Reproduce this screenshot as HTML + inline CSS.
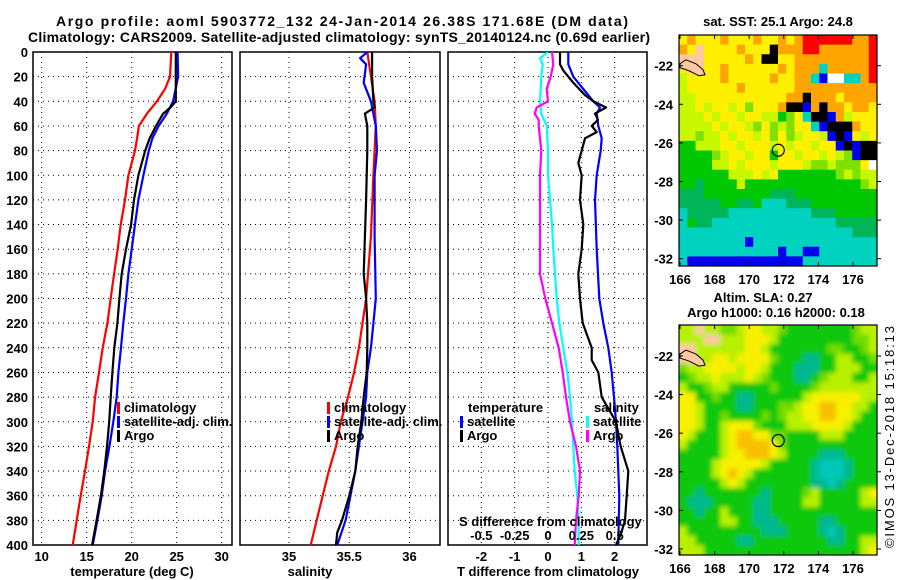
<!DOCTYPE html>
<html><head><meta charset="utf-8">
<style>
html,body{margin:0;padding:0;background:#fff;}
svg{display:block;font-family:"Liberation Sans",sans-serif;font-weight:bold;}
</style></head>
<body>
<svg id="fig" width="900" height="580" viewBox="0 0 900 580" xmlns="http://www.w3.org/2000/svg">
<defs>
<clipPath id="c1"><rect x="33" y="52" width="199" height="493"/></clipPath>
<clipPath id="c2"><rect x="240" y="52" width="200" height="493"/></clipPath>
<clipPath id="c3"><rect x="448" y="52" width="199" height="493"/></clipPath>
<clipPath id="cm1"><rect x="679" y="35" width="198" height="231"/></clipPath>
<clipPath id="cm2"><rect x="679" y="325" width="198" height="230"/></clipPath>
<filter id="blur" x="-5%" y="-5%" width="110%" height="110%"><feGaussianBlur stdDeviation="2.5"/></filter>
</defs>
<text x="342" y="26" text-anchor="middle" font-size="14" textLength="572">Argo profile: aoml 5903772_132 24-Jan-2014 26.38S 171.68E (DM data)</text>
<text x="339" y="42" text-anchor="middle" font-size="14" textLength="622">Climatology: CARS2009. Satellite-adjusted climatology: synTS_20140124.nc (0.69d earlier)</text>
<text x="778" y="26" text-anchor="middle" font-size="13">sat. SST: 25.1 Argo: 24.8</text>
<text x="763" y="302" text-anchor="middle" font-size="13">Altim. SLA: 0.27</text>
<text x="776" y="317" text-anchor="middle" font-size="13">Argo h1000: 0.16 h2000: 0.18</text>
<text transform="translate(894,548) rotate(-90)" font-size="13" font-weight="normal" textLength="222">©IMOS 13-Dec-2018 15:18:13</text>
<g id="plots"></g>
<g id="maps"></g>
</svg>
<script>
// ---- profile data ----
const depthTicks = [0,20,40,60,80,100,120,140,160,180,200,220,240,260,280,300,320,340,360,380,400];
const tempTicks = [10,15,20,25,30];
const salTicks = [35,35.5,36];
const salTickLabels = ["35","35.5","36"];
const tdiffTicks = [-2,-1,0,1,2];
const sdiffTicks = [-0.5,-0.25,0,0.25,0.5];
const sdiffTickLabels = ["-0.5","-0.25","0","0.25","0.5"];

const tClimDepth = [0,20,30,40,50,60,70,80,100,120,140,160,180,200,220,240,260,280,300,320,340,360,380,400];
const tClim = [24.4,24.26,23.7,22.8,21.7,20.8,20.6,20.37,19.63,19.26,18.78,18.44,18.04,17.67,17.3,16.78,16.37,15.93,15.67,15.26,14.81,14.33,13.89,13.44];
const tSatDepth = [0,20,40,50,60,70,80,100,120,140,160,180,200,220,240,260,280,300,320,340,360,380,400];
const tSat = [25.1,25.15,24.6,23.9,23.0,22.3,21.9,21.3,20.74,20.37,20.0,19.63,19.37,19.07,18.81,18.52,18.33,17.96,17.52,17.04,16.67,16.19,15.67];
const tArgoDepth = [0,40,45,50,60,70,80,100,120,140,160,180,200,220,240,260,280,300,320,340,360,380,400];
const tArgo = [24.9,24.9,24.3,23.5,22.7,22.0,21.5,20.74,20.26,19.93,19.37,18.89,18.63,18.41,18.07,17.85,17.67,17.5,17.25,16.95,16.58,16.1,15.6];

const sClimDepth = [0,40,60,100,150,200,220,240,260,280,300,320,340,360,380,400];
const sClim = [35.65,35.71,35.72,35.70,35.68,35.64,35.61,35.58,35.54,35.49,35.43,35.39,35.33,35.28,35.23,35.18];
const sSatDepth = [0,5,10,25,40,60,80,100,150,200,220,240,260,280,300,320,340,360,380,400];
const sSat = [35.65,35.59,35.64,35.62,35.68,35.72,35.73,35.71,35.71,35.72,35.70,35.68,35.65,35.64,35.61,35.58,35.55,35.51,35.47,35.40];
const sArgoDepth = [0,20,40,45,50,55,60,80,100,120,150,180,200,220,240,260,280,300,320,340,360,380,390,400];
const sArgo = [35.69,35.69,35.70,35.71,35.63,35.64,35.65,35.65,35.645,35.64,35.63,35.62,35.64,35.65,35.65,35.645,35.62,35.60,35.57,35.55,35.50,35.44,35.40,35.39];

const dTSatDepth = [0,10,20,30,40,45,50,60,70,80,100,120,160,200,220,240,260,280,300,320,340,360,400];
const dTSat = [0.61,0.61,0.76,1.06,1.36,1.56,1.46,1.51,1.61,1.58,1.46,1.41,1.46,1.54,1.66,1.81,1.91,1.98,2.04,2.08,2.11,2.14,2.11];
const dTArgoDepth = [0,10,15,25,35,40,45,50,55,60,65,70,80,90,100,120,140,160,180,200,220,240,250,260,280,300,320,340,360,380,390,400];
const dTArgo = [0.36,0.36,0.46,0.76,1.11,1.36,1.74,1.41,1.5,1.31,1.46,1.11,1.01,0.91,1.01,0.96,1.06,1.01,0.91,0.96,1.04,1.31,1.31,1.51,1.61,2.04,2.18,2.41,2.36,2.31,2.2,2.04];
const dSSatDepth = [0,5,10,20,40,50,60,80,100,120,140,160,200,220,240,260,280,300,320,340,360,380,400];
const dSSat = [0,-0.06,-0.04,-0.05,-0.06,-0.05,-0.01,0,0,0.015,0.03,0.04,0.065,0.085,0.115,0.145,0.165,0.18,0.19,0.2,0.22,0.23,0.23];
const dSArgoDepth = [0,10,20,30,40,45,50,55,60,80,100,120,180,200,220,240,260,280,300,320,340,360,380,400];
const dSArgo = [0.03,0.04,0.02,-0.01,0,-0.085,-0.1,-0.07,-0.07,-0.05,-0.06,-0.06,-0.06,-0.02,0.03,0.08,0.11,0.135,0.165,0.21,0.24,0.23,0.21,0.2];

// ---- map data (colour-code rows) ----
const sstRows = [
"YOYYYOYYYOYYOYORRRRRROOR","OYPYYYYOYYYKOOORROOOOOOR","PPPYYYYYOYKKYYOOOOOOOOOR","YPPYYOYYYYYYOYOOOCOOOOOR",
"yYYYYOYYYYYOYYOOCBWWCCOR","yYYYYYYOYYYYYYOOOOOOOOOO","yyYYYYYYYYYYYOOKOOOYOOOO","yyYyYYyYLYYYOKKBOKOOYOOY",
"yyyYyYYyYYyyGLYCKKBOyYYY","yyyyYyYYyLYLyLYYCBKKKOYY","yyLyyYyYYyYLYLyYYyBKBYyY","GGyyyYYyYYYyYyYYyYYBKBKK",
"GGGGLyYYyYYGYYyYYyYyLBKK","GGGGyyYyYYYyYYYyLLyLLLYW","GGGGGGyyyYyYGGGGGGGLyLyy","GGDGGGGyGGGGGGGGGGGGGGLy",
"DDDGGGGGGGGDDDGGGGGGGGGG","DDDDDGGDDGCCCDDDGGGGGGGG","CDDDDDCCCCCCCCCCDDDGGGGG","CGDDCCCCCCCCCCCCCCCDDDDD",
"CCCCCCCCCCCCCCCCCCCCCDDD","CCCCCCCCBCCCCCCCCCCCCCCC","CCCCCCCCCCCCBCCBBCCCCCCC","CBBBBBBBBBBBBBBCCCCCCCCC"];
const slaRows = [
"yyPyyLLyYYyyLGGGGGGGGLyy","yyyPPyyyYYYyGGGGGGGGGLLy","PPyyyyyyYYyGGGGGGGLLGGLy","PPyyYYyYYYYLGGGTTGGyyGGL",
"LyyYYYYyYYyGGGTTTGGyyyGG","GLyyYyyyYyLGGGTTGLyyyGGy","yGGLyyGGGGGLGGGGLyyyyyyy","YYGGLGGTTGGGGGGyYYYYYYyy",
"YYyGGGGTTGGGLLyYYOOYYyyG","YYyGGLGGGGLGLyyYYOOYYyGG","YYyGGyYYYLGGGyyyYYYYyGGG","YyGGGyYOOYYLLGGGGyyyGGGG",
"yGGGGyYOOOOYLGGGGGGGGGGG","GGGGGyYYOOOYyGGGGTTTGGGG","GGGGyYYYYYyGGGGGTCCCTGGG","GGGGyYOYyGGGGGGGTCCCTGGG",
"GGGGGyYyGGGGGGGGTTCTGGGG","GGTGGGGGGGTGGGGLyGGGGGyY","GTTTGGGGGTTGGGGyyGGGGGyy","GGTGGyGGGTTGGGGGGGGGGGGG",
"GGGGGyyGGTTTGGGGGTTGGGGG","yGGGGGGGGGTTTGGGGTCTGGGG","yyGGGGGTTGGGGGGGGGTTGGyy","yyyGGGGGGGGGGGGGGGGGGGyY"];
const lonTicks = [166,168,170,172,174,176];
const latTicks = [-22,-24,-26,-28,-30,-32];
const argoLon = 171.68, argoLat = -26.38;

const NS = "http://www.w3.org/2000/svg";
function mk(tag, attrs, parent, txt){
  const e = document.createElementNS(NS, tag);
  for (const k in attrs) e.setAttribute(k, attrs[k]);
  if (txt !== undefined) e.textContent = txt;
  parent.appendChild(e); return e;
}
const plots = document.getElementById('plots');
const maps = document.getElementById('maps');
const yD = d => 52 + d * 1.2325;
const panels = [
  {x0:33, x1:232, clip:'c1', name:'temperature-panel', ticks:tempTicks, labels:tempTicks.map(String), xs: v => 41.7 + (v-10)*9, title:'temperature (deg C)', tx:132, ylabels:true},
  {x0:240, x1:440, clip:'c2', name:'salinity-panel', ticks:salTicks, labels:salTickLabels, xs: v => 289 + (v-35)*120.5, title:'salinity', tx:310},
  {x0:448, x1:647, clip:'c3', name:'difference-panel', ticks:tdiffTicks, labels:tdiffTicks.map(String), xs: v => 548 + v*33.33, title:'T difference from climatology', tx:548}
];
const xsS = v => 548 + v*133.3;

panels.forEach(p => {
  const g = mk('g', {}, plots);
  
  
  depthTicks.forEach(d => {
    const l = mk('line', {x1:p.x0, x2:p.x1, y1:yD(d), y2:yD(d), stroke:'#000', 'stroke-width':1, 'stroke-dasharray':'1,4'}, g);
    
    
    if (p.ylabels) {
      const t = mk('text', {x:28, y:yD(d)+5, 'text-anchor':'end', 'font-size':13}, g, String(d));
      
      
    }
  });
  p.ticks.forEach((v,i) => {
    const x = p.xs(v);
    const l = mk('line', {x1:x, x2:x, y1:52, y2:545, stroke:'#000', 'stroke-width':1, 'stroke-dasharray':'1,4'}, g);
    
    
    const t = mk('text', {x:x, y:561, 'text-anchor':'middle', 'font-size':13}, g, p.labels[i]);
    
    
  });
  const b = mk('rect', {x:p.x0, y:52, width:p.x1-p.x0, height:493, fill:'none', stroke:'#000', 'stroke-width':1.5}, g);
  
  
  const at = mk('text', {x:p.tx, y:576, 'text-anchor':'middle', 'font-size':13}, g, p.title);
  
  
});

function series(depths, vals, xs, color, clip, name){
  const pts = depths.map((d,i) => xs(vals[i]).toFixed(1) + ',' + yD(d).toFixed(1)).join(' ');
  const pl = mk('polyline', {points:pts, fill:'none', stroke:color, 'stroke-width':2.2, 'clip-path':'url(#'+clip+')', 'stroke-linejoin':'round'}, plots);
  
  
}
series(tClimDepth, tClim, panels[0].xs, '#f00', 'c1', 'temperature-climatology-line');
series(tSatDepth, tSat, panels[0].xs, '#00f', 'c1', 'temperature-satellite-line');
series(tArgoDepth, tArgo, panels[0].xs, '#000', 'c1', 'temperature-argo-line');
series(sClimDepth, sClim, panels[1].xs, '#f00', 'c2', 'salinity-climatology-line');
series(sSatDepth, sSat, panels[1].xs, '#00f', 'c2', 'salinity-satellite-line');
series(sArgoDepth, sArgo, panels[1].xs, '#000', 'c2', 'salinity-argo-line');
series(dTSatDepth, dTSat, panels[2].xs, '#00f', 'c3', 'tdiff-satellite-line');
series(dTArgoDepth, dTArgo, panels[2].xs, '#000', 'c3', 'tdiff-argo-line');
series(dSSatDepth, dSSat, xsS, '#0ff', 'c3', 'sdiff-satellite-line');
series(dSArgoDepth, dSArgo, xsS, '#f0f', 'c3', 'sdiff-argo-line');

const sdt = mk('text', {x:459, y:526, 'font-size':13}, plots, 'S difference from climatology');


sdiffTicks.forEach((v,i) => {
  const t = mk('text', {x:xsS(v), y:540, 'text-anchor':'middle', 'font-size':13}, plots, sdiffTickLabels[i]);
  
  
});

function legend(x, y, color, label){
  if (color) {
    const r = mk('rect', {x:x, y:y-10, width:3, height:12, fill:color}, plots);
    
    
  }
  const t = mk('text', {x:x+7, y:y, 'font-size':13}, plots, label);
  
  
}
legend(117, 412, '#f00', 'climatology');
legend(117, 426, '#00f', 'satellite-adj. clim.');
legend(117, 440, '#000', 'Argo');
legend(327, 412, '#f00', 'climatology');
legend(327, 426, '#00f', 'satellite-adj. clim.');
legend(327, 440, '#000', 'Argo');
legend(461, 412, null, 'temperature');
legend(460, 426, '#00f', 'satellite');
legend(460, 440, '#000', 'Argo');
legend(587, 412, null, 'salinity');
legend(586, 426, '#0ff', 'satellite');
legend(586, 440, '#f0f', 'Argo');

// ---- maps ----
const sstPal = {R:'#ff0000',O:'#ffa500',Y:'#fff000',y:'#c8f800',L:'#80e000',G:'#00c800',D:'#00b45a',C:'#00d2c0',B:'#0000f0',K:'#000000',W:'#ffffff',P:'#ffc8a0'};
const slaPal = {O:'#f8c000',Y:'#f8f000',y:'#b8f000',L:'#70dc00',G:'#10c810',T:'#00b890',C:'#00c8b8',P:'#ffc8a0'};
function drawMap(rows, pal, x0, y0, w, h, latTop, clip, name, blur){
  const g = mk('g', {'clip-path':'url(#'+clip+')'}, maps);
  
  
  const inner = mk('g', blur ? {filter:'url(#blur)'} : {}, g);
  const nr = rows.length, nc = rows[0].length;
  const cw = w/nc, ch = h/nr;
  mk('rect', {x:x0, y:y0, width:w, height:h, fill: pal[rows[nr-1][0]]}, inner);
  rows.forEach((row, r) => {
    for (let c=0;c<nc;c++){
      const code = row[c];
      const cell = mk('rect', {x:(x0+c*cw-(blur&&c==0?4:0)).toFixed(2), y:(y0+r*ch-(blur&&r==0?4:0)).toFixed(2), width:(cw+0.6+(blur&&(c==0||c==nc-1)?4:0)).toFixed(2), height:(ch+0.6+(blur&&(r==0||r==nr-1)?4:0)).toFixed(2), fill:pal[code]}, inner);
      
      
    }
  });
  const lonX = lon => 680 + (lon-166)*17.3;
  const latY = lat => latTop + (-22 - lat)*19.3;
  const isl = mk('path', {d:'M'+lonX(166)+','+latY(-21.9)+' l6,-4 l10,4 l7,6 l2,5 l-6,1 l-10,-5 l-9,-3z', fill:'#ffc8a0', stroke:'#000', 'stroke-width':1}, g);
  
  
  const fr = mk('rect', {x:x0, y:y0, width:w, height:h, fill:'none', stroke:'#000', 'stroke-width':1.2}, maps);
  
  
  lonTicks.forEach(lon => {
    const x = lonX(lon);
    mk('line', {x1:x, x2:x, y1:y0, y2:y0+4, stroke:'#000'}, maps);
    mk('line', {x1:x, x2:x, y1:y0+h, y2:y0+h-4, stroke:'#000'}, maps);
    const t = mk('text', {x:x, y:y0+h+18, 'text-anchor':'middle', 'font-size':13}, maps, String(lon));
    
    
  });
  latTicks.forEach(lat => {
    const y = latY(lat);
    mk('line', {x1:x0, x2:x0+4, y1:y, y2:y, stroke:'#000'}, maps);
    mk('line', {x1:x0+w, x2:x0+w+4, y1:y, y2:y, stroke:'#000'}, maps);
    const t = mk('text', {x:x0-6, y:y+5, 'text-anchor':'end', 'font-size':13}, maps, String(lat));
    
    
  });
  const m = mk('circle', {cx:lonX(argoLon), cy:latY(argoLat), r:6, fill:'none', stroke:'#000', 'stroke-width':1.2}, maps);
  
  
}
drawMap(sstRows, sstPal, 679, 35, 198, 231, 65.7, 'cm1', 'sst-map', false);
drawMap(slaRows, slaPal, 679, 325, 198, 230, 356, 'cm2', 'sla-map', true);
</script>
</body></html>
